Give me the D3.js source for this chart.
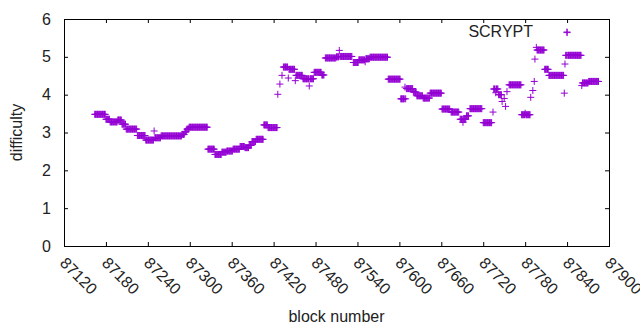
<!DOCTYPE html>
<html>
<head>
<meta charset="utf-8">
<script src="https://cdn.jsdelivr.net/npm/d3@7"></script>
<style>
  body { margin: 0; background: #fff; }
  #chart { width: 640px; height: 330px; }
  text { font-family: "Liberation Sans", Arial, sans-serif; }
</style>
</head>
<body>
<div id="chart"></div>
<script>
// runs of blocks with the same difficulty (start block, end block, difficulty)
const runStart = [87164, 87180, 87186, 87197, 87203, 87209, 87225, 87237, 87249, 87250,
  87259, 87289, 87293, 87296, 87299, 87326, 87336, 87346, 87353, 87362,
  87372, 87379, 87385, 87389, 87395, 87406, 87412, 87426, 87429, 87432,
  87434, 87441, 87442, 87451, 87452, 87462, 87471, 87472, 87478, 87489,
  87494, 87510, 87514, 87515, 87534, 87542, 87551, 87552, 87558, 87584,
  87602, 87608, 87609, 87610, 87620, 87625, 87634, 87644, 87661, 87674,
  87687, 87691, 87692, 87696, 87701, 87720, 87734, 87735, 87738, 87739,
  87742, 87747, 87750, 87752, 87754, 87757, 87775, 87780, 87781, 87788,
  87791, 87793, 87794, 87796, 87797, 87808, 87814, 87836, 87837, 87838,
  87840, 87841, 87861, 87862, 87871];
const runEnd = [87179, 87185, 87196, 87202, 87208, 87224, 87236, 87248, 87249, 87258,
  87288, 87292, 87295, 87298, 87325, 87335, 87345, 87352, 87361, 87371,
  87378, 87384, 87388, 87394, 87405, 87411, 87425, 87426, 87429, 87432,
  87440, 87441, 87450, 87451, 87461, 87470, 87471, 87477, 87488, 87492,
  87509, 87513, 87514, 87532, 87541, 87550, 87551, 87557, 87583, 87601,
  87607, 87608, 87609, 87619, 87624, 87633, 87643, 87660, 87672, 87685,
  87690, 87691, 87695, 87699, 87718, 87732, 87734, 87737, 87738, 87741,
  87746, 87747, 87750, 87752, 87754, 87774, 87779, 87780, 87787, 87788,
  87791, 87793, 87794, 87796, 87807, 87813, 87835, 87836, 87837, 87839,
  87840, 87860, 87861, 87870, 87885];
const runDiff = [3.48, 3.35, 3.28, 3.33, 3.22, 3.09, 2.92, 2.80, 3.04, 2.86,
  2.91, 2.95, 3.02, 3.09, 3.14, 2.56, 2.42, 2.48, 2.51, 2.56,
  2.63, 2.60, 2.66, 2.76, 2.82, 3.20, 3.13, 4.01, 4.28, 4.51,
  4.73, 4.44, 4.67, 4.37, 4.51, 4.42, 4.23, 4.42, 4.59, 4.52,
  4.97, 5.00, 5.17, 5.01, 4.85, 4.92, 4.87, 4.95, 4.99, 4.41,
  3.89, 4.20, 3.89, 4.16, 4.07, 3.97, 3.91, 4.04, 3.62, 3.54,
  3.35, 3.27, 3.35, 3.44, 3.63, 3.26, 3.54, 4.15, 4.05, 4.15,
  4.00, 3.82, 3.90, 3.69, 4.08, 4.26, 3.47, 3.51, 3.47, 3.93,
  4.11, 4.35, 4.94, 5.25, 5.18, 4.67, 4.51, 4.04, 4.81, 5.04,
  5.64, 5.04, 4.24, 4.31, 4.35];

const xTicks = [87120, 87180, 87240, 87300, 87360, 87420, 87480, 87540,
  87600, 87660, 87720, 87780, 87840, 87900];
const yTicks = [0, 1, 2, 3, 4, 5, 6];
const seriesName = "SCRYPT";

const width = 640, height = 330;
const margin = { left: 64, right: 31, top: 19, bottom: 84 };
const color = "#9400d3";

// one point per block
const points = [];
runStart.forEach((s, i) => {
  for (let b = s; b <= runEnd[i]; b++) points.push({ block: b, diff: runDiff[i] });
});

const x = d3.scaleLinear().domain([87120, 87900]).range([margin.left, width - margin.right]);
const y = d3.scaleLinear().domain([0, 6]).range([height - margin.bottom, margin.top]);

const svg = d3.create("svg")
  .attr("width", width)
  .attr("height", height)
  .attr("viewBox", [0, 0, width, height]);

svg.append("rect").attr("width", width).attr("height", height).attr("fill", "#fff");

function plus(g, cx, cy) {
  g.append("path")
    .attr("d", `M${cx - 3.5},${cy}H${cx + 3.5}M${cx},${cy - 3.5}V${cy + 3.5}`)
    .attr("stroke", color)
    .attr("stroke-width", 1)
    .attr("fill", "none");
}

// axes with mirrored inward ticks
const axisB = svg.append("g")
  .attr("transform", `translate(0,${height - margin.bottom})`)
  .call(d3.axisBottom(x).tickValues(xTicks).tickSize(-4).tickFormat(""));
const axisT = svg.append("g")
  .attr("transform", `translate(0,${margin.top})`)
  .call(d3.axisTop(x).tickValues(xTicks).tickSize(-4).tickFormat(""));
const axisL = svg.append("g")
  .attr("transform", `translate(${margin.left},0)`)
  .call(d3.axisLeft(y).tickValues(yTicks).tickSize(-4).tickPadding(13).tickFormat(d3.format("d")));
const axisR = svg.append("g")
  .attr("transform", `translate(${width - margin.right},0)`)
  .call(d3.axisRight(y).tickValues(yTicks).tickSize(-4).tickFormat(""));

[axisB, axisT, axisL, axisR].forEach(g => {
  g.select(".domain").remove();
  g.selectAll("line").attr("stroke", "#000");
});
axisL.selectAll("text").style("font-size", "16px").attr("fill", "#222");

svg.append("rect")
  .attr("x", margin.left + 0.5)
  .attr("y", margin.top + 0.5)
  .attr("width", width - margin.left - margin.right)
  .attr("height", height - margin.top - margin.bottom)
  .attr("fill", "none")
  .attr("stroke", "#000");

// rotated x tick labels
svg.append("g")
  .selectAll("text")
  .data(xTicks)
  .enter().append("text")
  .attr("transform", d => `translate(${x(d) - 1},${height - margin.bottom + 14}) rotate(45)`)
  .attr("text-anchor", "start")
  .attr("dy", "0.35em")
  .style("font-size", "16px")
  .attr("fill", "#222")
  .text(d => d);

svg.append("text")
  .attr("x", (margin.left + width - margin.right) / 2)
  .attr("y", 322)
  .attr("text-anchor", "middle")
  .style("font-size", "16px")
  .attr("fill", "#222")
  .text("block number");

svg.append("text")
  .attr("transform", `translate(22,${(margin.top + height - margin.bottom) / 2}) rotate(-90)`)
  .attr("text-anchor", "middle")
  .style("font-size", "16px")
  .attr("fill", "#222")
  .text("difficulty");

const marks = svg.append("g");
points.forEach(p => plus(marks, x(p.block), y(p.diff)));

// key
svg.append("text")
  .attr("x", 533)
  .attr("y", 37)
  .attr("text-anchor", "end")
  .style("font-size", "16px")
  .attr("fill", "#222")
  .text(seriesName);
plus(svg.append("g"), 567, 32);

document.getElementById("chart").appendChild(svg.node());
</script>
</body>
</html>
